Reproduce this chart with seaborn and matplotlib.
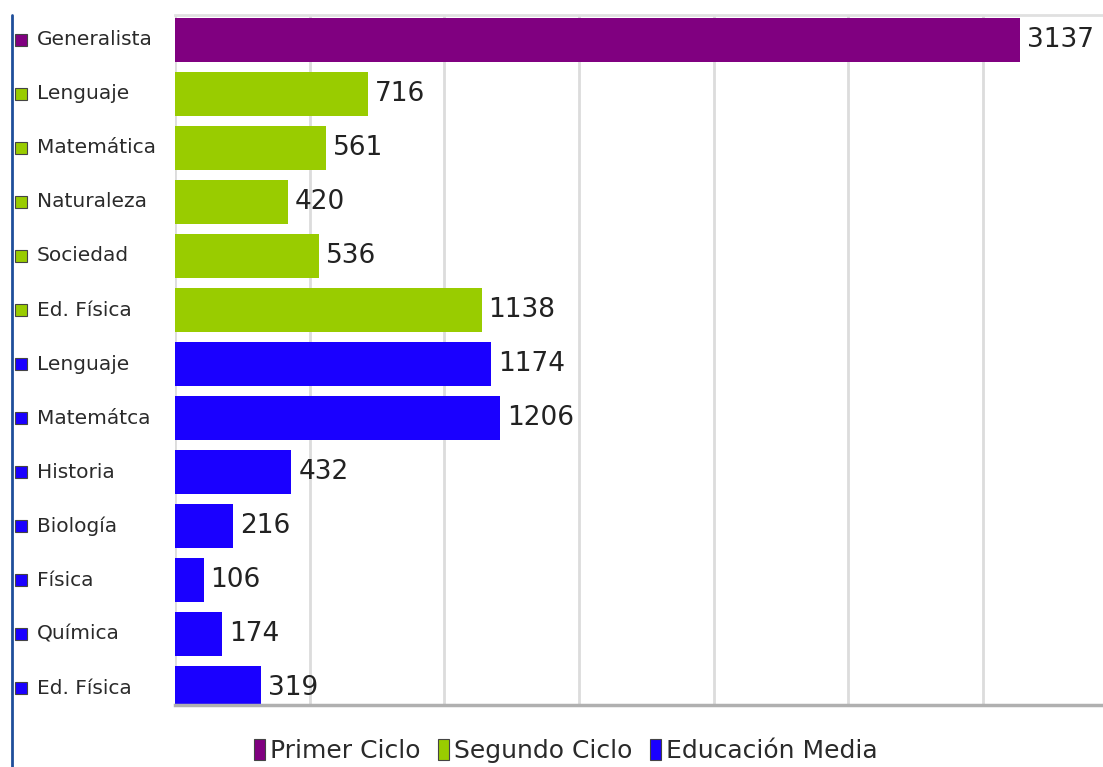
import matplotlib
matplotlib.use("Agg")
import matplotlib.pyplot as plt
import seaborn as sns
import pandas as pd
from matplotlib.patches import Patch
from matplotlib.lines import Line2D
from matplotlib.transforms import blended_transform_factory

categories = ["Generalista", "Lenguaje", "Matemática", "Naturaleza", "Sociedad", "Ed. Física",
              "Lenguaje", "Matemátca", "Historia", "Biología", "Física", "Química", "Ed. Física"]
values = [3137, 716, 561, 420, 536, 1138, 1174, 1206, 432, 216, 106, 174, 319]
groups = ["Primer Ciclo"] + ["Segundo Ciclo"] * 5 + ["Educación Media"] * 7
group_names = ["Primer Ciclo", "Segundo Ciclo", "Educación Media"]
colors = {"Primer Ciclo": "#800080", "Segundo Ciclo": "#99cc00", "Educación Media": "#1a00ff"}
xticks = [0, 500, 1000, 1500, 2000, 2500, 3000]

df = pd.DataFrame({"row": [str(i) for i in range(len(categories))],
                   "name": categories, "value": values, "group": groups})

sns.set_theme(style="white")
plt.rcParams['font.family'] = ['DejaVu Sans']

fig = plt.figure(figsize=(11.03, 7.67), dpi=100)
ax = fig.add_axes([175 / 1103, 1 - 705 / 767, 1 - 175 / 1103, (705 - 15) / 767])

sns.barplot(data=df, x="value", y="row", hue="group", hue_order=group_names,
            palette=colors, dodge=False, orient="h", width=0.81, ax=ax,
            legend=False, saturation=1, linewidth=0)

for c in ax.containers:
    ax.bar_label(c, padding=5, fontsize=19, color="#222222")

ax.set_xlim(0, 3445)
ax.set_ylim(12.31, -0.46)
ax.set_xticks(xticks)
ax.set_xticklabels([])
ax.tick_params(axis="both", length=0)
ax.set_yticks(range(len(categories)))
ax.set_yticklabels([])
ax.set_xlabel("")
ax.set_ylabel("")
ax.grid(axis="x", color="#dcdcdc", linewidth=2)
ax.set_axisbelow(True)
for s in ["left", "right"]:
    ax.spines[s].set_visible(False)
ax.spines["top"].set_color("#e0e0e0")
ax.spines["top"].set_linewidth(2)
ax.spines["bottom"].set_color("#b0b0b0")
ax.spines["bottom"].set_linewidth(2.5)

trans = blended_transform_factory(fig.transFigure, ax.transData)
for i, (name, g) in enumerate(zip(categories, groups)):
    ax.text(37 / 1103, i, name, transform=trans, ha="left", va="center",
            fontsize=14.5, color="#2a2a2a", clip_on=False)
    ax.plot([21 / 1103], [i], marker="s", markersize=9, color=colors[g],
            markeredgecolor="#444444", markeredgewidth=0.8, transform=trans, clip_on=False)

fig.add_artist(Line2D([12 / 1103, 12 / 1103], [0, 1 - 15 / 767], transform=fig.transFigure,
                      color="#1f4e9a", linewidth=2))

handles = [Patch(facecolor=colors[g], edgecolor="#444444", linewidth=0.8) for g in group_names]
fig.legend(handles, group_names, loc="center", bbox_to_anchor=(0.513, 0.021), ncol=3,
           frameon=False, fontsize=18, handlelength=0.45, handleheight=0.9,
           handletextpad=0.2, columnspacing=0.7, labelcolor="#2a2a2a")

fig.savefig("out.png", dpi=100)
